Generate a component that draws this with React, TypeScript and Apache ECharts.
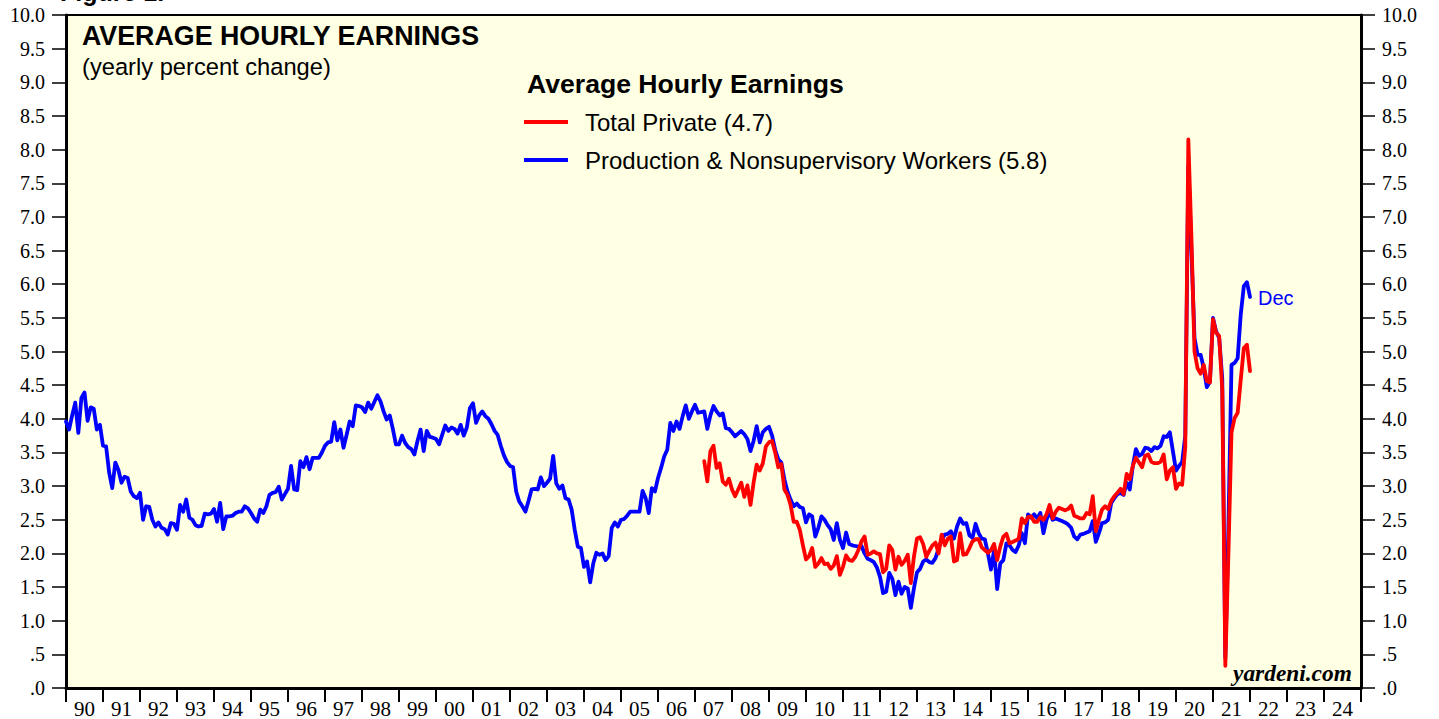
import React, { useEffect, useRef } from "react";
import * as echarts from "echarts";

// x-axis tick labels (one per calendar year, 1990-2024)
const yearLabels = [
  "90", "91", "92", "93", "94", "95", "96", "97", "98", "99",
  "00", "01", "02", "03", "04", "05", "06", "07", "08", "09",
  "10", "11", "12", "13", "14", "15", "16", "17", "18", "19",
  "20", "21", "22", "23", "24",
];

// Production & Nonsupervisory Workers, yoy %, monthly, Dec 1989 - Dec 1999
const blueStart = { year: 1989, month: 12 };
const blue1990s = [
  3.96,
  3.84, 4.05, 4.24, 3.79, 4.31, 4.39, 3.97, 4.17, 4.15, 3.84, 3.91, 3.6,
  3.59, 3.2, 2.97, 3.35, 3.24, 3.05, 3.14, 3.12, 2.92, 2.85, 2.82, 2.9,
  2.5, 2.7, 2.69, 2.5, 2.4, 2.46, 2.38, 2.36, 2.28, 2.45, 2.44, 2.35,
  2.72, 2.62, 2.8, 2.53, 2.5, 2.42, 2.4, 2.41, 2.59, 2.58, 2.59, 2.66,
  2.47, 2.75, 2.36, 2.55, 2.55, 2.56, 2.6, 2.62, 2.62, 2.7, 2.67, 2.6,
  2.52, 2.47, 2.65, 2.6, 2.7, 2.87, 2.9, 2.91, 2.99, 2.8, 2.88, 2.96,
  3.3, 2.95, 2.94, 3.37, 3.28, 3.43, 3.25, 3.42, 3.42, 3.42, 3.5, 3.6,
  3.65, 3.66, 3.95, 3.68, 3.84, 3.57, 3.76, 3.96, 3.89, 4.2, 4.19, 4.17,
  4.1, 4.24, 4.15, 4.25, 4.35, 4.26, 4.11, 3.99, 4.05, 3.85, 3.62, 3.62,
  3.75, 3.64, 3.58, 3.55, 3.47, 3.67, 3.84, 3.52, 3.82, 3.73, 3.72, 3.7,
];
// 2000 - 2009
const blue2000s = [
  3.62, 3.76, 3.9, 3.82, 3.87, 3.85, 3.78, 3.91, 3.75, 3.87, 4.16, 4.23,
  3.94, 4.05, 4.11, 4.04, 4.0, 3.92, 3.82, 3.76, 3.6, 3.46, 3.36, 3.3,
  3.28, 2.92, 2.77, 2.7, 2.62, 2.78, 2.95, 2.96, 2.95, 3.13, 3.0, 3.05,
  3.11, 3.45, 3.04, 2.96, 3.01, 2.82, 2.8, 2.65, 2.35, 2.1, 2.08, 1.8,
  1.88, 1.57, 1.85, 2.01, 1.98, 2.0, 1.9, 1.96, 2.38, 2.46, 2.4, 2.5,
  2.51, 2.56, 2.62, 2.62, 2.62, 2.62, 2.93, 2.82, 2.6, 2.97, 2.92, 3.12,
  3.27, 3.44, 3.54, 3.94, 3.82, 3.96, 3.85, 4.04, 4.2, 4.0, 4.11, 4.21,
  4.09, 4.1, 4.11, 3.85, 4.05, 4.19, 4.11, 4.05, 4.08, 3.86, 3.85, 3.8,
  3.74, 3.78, 3.82, 3.77, 3.7, 3.52, 3.67, 3.89, 3.65, 3.8, 3.85, 3.88,
  3.75, 3.54, 3.4, 3.35, 3.1, 2.92, 2.8, 2.7, 2.74, 2.69, 2.67, 2.46,
];
// 2010 - 2019
const blue2010s = [
  2.58, 2.55, 2.25, 2.38, 2.55, 2.5, 2.42, 2.36, 2.2, 2.45, 2.2, 2.08,
  2.31, 2.14, 2.12, 2.11, 2.1, 2.11, 2.0, 1.92, 1.9, 1.87, 1.79, 1.65,
  1.41, 1.43, 1.71, 1.62, 1.38, 1.58, 1.4, 1.5, 1.48, 1.19, 1.48, 1.72,
  1.77, 1.88, 1.91, 1.87, 1.86, 1.93, 2.07, 2.2, 2.28, 2.29, 2.33, 2.22,
  2.4, 2.52, 2.44, 2.45, 2.27, 2.23, 2.44, 2.3, 2.22, 2.21, 2.0, 1.76,
  2.05, 1.47, 1.85, 1.9, 2.15, 2.12, 2.05, 2.02, 2.12, 2.3, 2.15, 2.58,
  2.53, 2.58, 2.52, 2.6, 2.3, 2.5, 2.62, 2.5, 2.52, 2.5, 2.48, 2.46,
  2.43, 2.38, 2.25, 2.21, 2.28, 2.29, 2.31, 2.33, 2.48, 2.17, 2.3, 2.45,
  2.46, 2.5, 2.75, 2.82, 2.88, 2.9, 2.87, 3.05, 2.95, 3.3, 3.55, 3.45,
  3.48, 3.57, 3.56, 3.52, 3.58, 3.56, 3.6, 3.74, 3.73, 3.8, 3.52, 3.23,
];
// 2020 - 2021
const blue2020s = [
  3.3, 3.36, 3.75, 7.75, 6.5, 5.2, 4.95, 4.95, 4.75, 4.47, 4.55, 5.5,
  5.3, 5.2, 4.6, 0.45, 2.4, 4.8, 4.83, 4.9, 5.55, 5.97, 6.03, 5.81,
];

// Total Private, yoy %, monthly, Mar 2007 - Dec 2021
const redStart = { year: 2007, month: 3 };
const red2000s = [
  3.37, 3.07, 3.52, 3.6, 3.27, 3.34, 3.07, 3.02, 3.11, 2.95,
  2.85, 2.95, 3.05, 2.84, 3.01, 2.72, 3.05, 3.32, 3.23, 3.34, 3.59, 3.65,
  3.67, 3.5, 3.28, 3.33, 2.95, 2.87, 2.72, 2.47, 2.47, 2.35, 2.12, 1.91,
];
const red2010s = [
  1.96, 2.08, 1.8, 1.85, 1.93, 1.84, 1.85, 1.77, 1.82, 1.96, 1.68, 1.8,
  1.97, 1.9, 1.89, 1.95, 2.05, 2.18, 2.25, 1.98, 2.0, 2.03, 2.0, 1.99,
  1.72, 1.77, 2.12, 2.05, 1.76, 1.95, 1.83, 1.89, 1.98, 1.56, 1.95, 2.22,
  2.24, 2.14, 1.95, 2.04, 2.12, 2.16, 2.0, 2.28, 2.12, 2.22, 2.25, 1.88,
  1.9, 2.3, 1.98, 1.99, 2.08, 2.18, 2.21, 2.21, 2.09, 2.05, 2.01, 2.05,
  2.14, 1.9, 2.1, 2.25, 2.29, 2.15, 2.17, 2.19, 2.22, 2.52, 2.45, 2.54,
  2.55, 2.47, 2.47, 2.54, 2.5, 2.58, 2.72, 2.52, 2.62, 2.68, 2.66, 2.64,
  2.66, 2.71, 2.56, 2.54, 2.52, 2.52, 2.6, 2.58, 2.85, 2.33, 2.5, 2.65,
  2.7, 2.66, 2.78, 2.85, 2.9, 2.96, 2.88, 3.18, 3.1, 3.3, 3.42, 3.35,
  3.28, 3.45, 3.47, 3.36, 3.34, 3.34, 3.36, 3.47, 3.1, 3.23, 3.28, 2.96,
];
const red2020s = [
  3.04, 3.02, 3.58, 8.15, 6.7, 5.0, 4.75, 4.67, 4.8, 4.56, 4.54, 5.48,
  5.28, 5.23, 4.43, 0.33, 2.0, 3.8, 4.01, 4.09, 4.58, 5.05, 5.1, 4.71,
];

const blueValues = [...blue1990s, ...blue2000s, ...blue2010s, ...blue2020s];
const redValues = [...red2000s, ...red2010s, ...red2020s];

// each monthly value is plotted at the end of its month (decimal years)
function toPoints(start: { year: number; month: number }, values: number[]) {
  return values.map((v, i) => [start.year + (start.month + i) / 12, v]);
}

const SANS = '"Liberation Sans", Arial, Helvetica, sans-serif';
const SERIF = '"Liberation Serif", "Times New Roman", Times, serif';

function yLabel(v: number) {
  if (v < 1) return v === 0 ? ".0" : ".5";
  return v.toFixed(1);
}

export default function App() {
  const ref = useRef<HTMLDivElement>(null);

  useEffect(() => {
    if (!ref.current) return;
    const chart = echarts.init(ref.current, undefined, { renderer: "svg" });

    const yAxisCommon = {
      type: "value",
      min: 0,
      max: 10,
      interval: 0.5,
      axisLine: { show: true, lineStyle: { color: "#000", width: 3 } },
      axisTick: { show: true, length: 14, lineStyle: { color: "#000", width: 1.5 } },
      splitLine: { show: false },
    };

    const text = (t: string, x: number, y: number, font: string, fill = "#000") => ({
      type: "text",
      x,
      y,
      silent: true,
      style: {
        text: t,
        x: 0,
        y: 0,
        font,
        fill,
        align: "left",
        verticalAlign: "middle",
        textAlign: "left",
        textVerticalAlign: "middle",
      },
    });

    chart.setOption({
      animation: false,
      backgroundColor: "#fff",
      grid: {
        left: 66,
        right: 78,
        top: 15,
        bottom: 31,
        show: true,
        backgroundColor: "#FFFFE3",
        borderColor: "#000",
        borderWidth: 2,
        containLabel: false,
      },
      xAxis: [
        {
          type: "category",
          data: yearLabels,
          boundaryGap: true,
          position: "bottom",
          axisLine: { show: true, lineStyle: { color: "#000", width: 3 } },
          axisTick: {
            show: true,
            inside: false,
            length: 14,
            interval: 0,
            alignWithLabel: false,
            lineStyle: { color: "#000", width: 2 },
          },
          axisLabel: {
            interval: 0,
            color: "#000",
            fontFamily: SERIF,
            fontSize: 21,
            margin: 10,
          },
          splitLine: { show: false },
        },
        { type: "value", min: 1990, max: 2025, show: false },
      ],
      yAxis: [
        {
          ...yAxisCommon,
          position: "left",
          axisLabel: { formatter: yLabel, color: "#000", fontFamily: SERIF, fontSize: 20, margin: 21 },
        },
        {
          ...yAxisCommon,
          position: "right",
          axisLabel: { formatter: yLabel, color: "#000", fontFamily: SERIF, fontSize: 20, margin: 21 },
        },
      ],
      series: [
        {
          name: "Production & Nonsupervisory Workers",
          type: "line",
          xAxisIndex: 1,
          yAxisIndex: 0,
          data: toPoints(blueStart, blueValues),
          showSymbol: false,
          symbol: "none",
          lineStyle: { color: "#0000FF", width: 3.8, join: "round", cap: "round" },
          z: 3,
        },
        {
          name: "Total Private",
          type: "line",
          xAxisIndex: 1,
          yAxisIndex: 0,
          data: toPoints(redStart, redValues),
          showSymbol: false,
          symbol: "none",
          lineStyle: { color: "#FF0000", width: 3.8, join: "round", cap: "round" },
          z: 4,
        },
      ],
      graphic: [
        {
          type: "text",
          x: 60,
          y: 4,
          silent: true,
          style: {
            text: "Figure 1.",
            font: `bold 25px ${SANS}`,
            fill: "#000",
            align: "left",
            verticalAlign: "bottom",
            textAlign: "left",
            textVerticalAlign: "bottom",
          },
        },
        text("AVERAGE HOURLY EARNINGS", 82, 36, `bold 26.8px ${SANS}`),
        text("(yearly percent change)", 82, 67, `23.7px ${SANS}`),
        text("Average Hourly Earnings", 527, 84, `bold 26.6px ${SANS}`),
        {
          type: "line",
          silent: true,
          shape: { x1: 524, y1: 122, x2: 568, y2: 122 },
          style: { stroke: "#FF0000", lineWidth: 4 },
        },
        text("Total Private (4.7)", 585, 122, `24px ${SANS}`),
        {
          type: "line",
          silent: true,
          shape: { x1: 524, y1: 160, x2: 568, y2: 160 },
          style: { stroke: "#0000FF", lineWidth: 4 },
        },
        text("Production & Nonsupervisory Workers (5.8)", 585, 160, `24px ${SANS}`),
        text("Dec", 1258, 298, `20px ${SANS}`, "#0000FF"),
        text("yardeni.com", 1233, 673, `italic bold 23.4px ${SERIF}`),
      ],
    });

    return () => chart.dispose();
  }, []);

  return (
    <div
      ref={ref}
      style={{ position: "fixed", left: 0, top: 0, width: 1439, height: 719 }}
    />
  );
}
